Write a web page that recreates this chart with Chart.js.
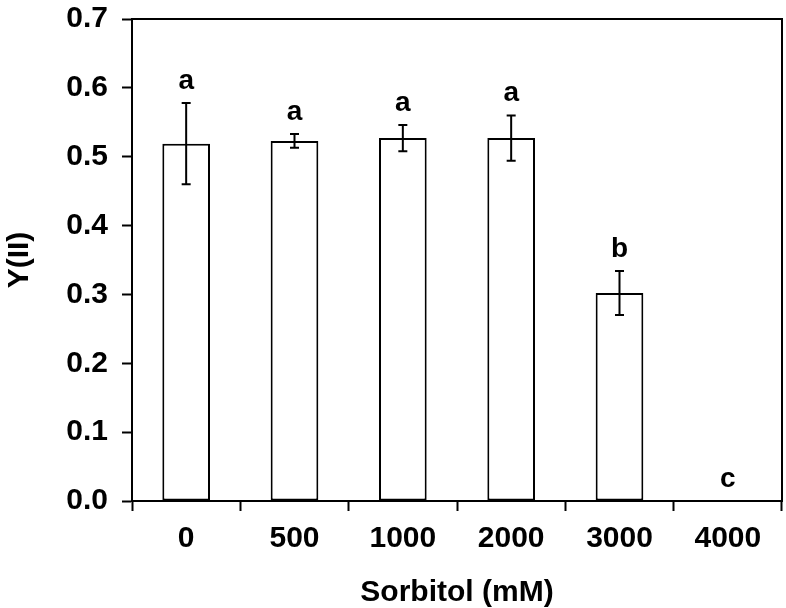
<!DOCTYPE html>
<html>
<head>
<meta charset="utf-8">
<script src="https://cdn.jsdelivr.net/npm/chart.js@4"></script>
<style>
  html, body { margin: 0; padding: 0; background: #fff; }
  #wrap { width: 786px; height: 608px; }
</style>
</head>
<body>
<div id="wrap"><canvas id="yieldChart"></canvas></div>
<script>
const concentrations = ['0', '500', '1000', '2000', '3000', '4000'];
const yieldMeans = [0.519, 0.523, 0.527, 0.527, 0.302, 0];
const yieldErrors = [0.059, 0.010, 0.019, 0.033, 0.032, 0];
const groupLetters = ['a', 'a', 'a', 'a', 'b', 'c'];

const FONT = '"Liberation Sans", Arial, Helvetica, sans-serif';

// error bars, significance letters and the top/right frame
const extrasPlugin = {
  id: 'extras',
  afterDatasetsDraw(chart) {
    const ctx = chart.ctx;
    const x = chart.scales.x;
    const y = chart.scales.y;
    const area = chart.chartArea;
    ctx.save();
    ctx.strokeStyle = '#000';
    ctx.lineWidth = 2;
    yieldMeans.forEach((v, i) => {
      const cx = x.getPixelForValue(i);
      const err = yieldErrors[i];
      if (err > 0) {
        const top = y.getPixelForValue(v + err);
        const bot = y.getPixelForValue(v - err);
        ctx.beginPath();
        ctx.moveTo(cx, top);
        ctx.lineTo(cx, bot);
        ctx.moveTo(cx - 4.5, top);
        ctx.lineTo(cx + 4.5, top);
        ctx.moveTo(cx - 4.5, bot);
        ctx.lineTo(cx + 4.5, bot);
        ctx.stroke();
      }
      ctx.fillStyle = '#000';
      ctx.font = 'bold 28px ' + FONT;
      ctx.textAlign = 'center';
      ctx.textBaseline = 'alphabetic';
      ctx.fillText(groupLetters[i], cx, y.getPixelForValue(v + err) - 14);
    });
    ctx.beginPath();
    ctx.moveTo(area.left, area.top);
    ctx.lineTo(area.right, area.top);
    ctx.lineTo(area.right, area.bottom);
    ctx.stroke();
    ctx.restore();
  },
};

const chartEl = document.getElementById('yieldChart').getContext('2d');
const yieldChart = new Chart(chartEl, {
  type: 'bar',
  data: {
    labels: concentrations,
    datasets: [
      {
        label: 'Y(II)',
        data: yieldMeans,
        backgroundColor: '#fff',
        borderColor: '#000',
        borderWidth: 2,
        borderSkipped: false,
        categoryPercentage: 1,
        barPercentage: 0.44,
      },
    ],
  },
  options: {
    responsive: true,
    maintainAspectRatio: false,
    animation: false,
    layout: { padding: { top: 19, right: 4, left: 0, bottom: 0 } },
    plugins: {
      legend: { display: false },
      tooltip: { enabled: false },
    },
    scales: {
      x: {
        offset: true,
        grid: {
          offset: true,
          drawOnChartArea: false,
          tickLength: 10,
          tickWidth: 2,
          tickColor: '#000',
        },
        border: { color: '#000', width: 2 },
        ticks: {
          color: '#000',
          padding: 10,
          font: { family: FONT, size: 30, weight: 'bold' },
        },
        title: {
          display: true,
          text: 'Sorbitol (mM)',
          color: '#000',
          padding: { top: 8, bottom: -3 },
          font: { family: FONT, size: 30, weight: 'bold' },
        },
        afterFit(scale) {
          scale.height = 107;
          scale.paddingLeft = 0;
          scale.paddingRight = 0;
        },
      },
      y: {
        min: 0,
        max: 0.7,
        grid: {
          drawOnChartArea: false,
          tickLength: 10,
          tickWidth: 2,
          tickColor: '#000',
        },
        border: { color: '#000', width: 2 },
        ticks: {
          stepSize: 0.1,
          color: '#000',
          padding: 14,
          font: { family: FONT, size: 30, weight: 'bold' },
          callback: value => value.toFixed(1),
        },
        title: {
          display: true,
          text: 'Y(II)',
          color: '#000',
          padding: { top: 2, bottom: 0 },
          font: { family: FONT, size: 30, weight: 'bold' },
        },
        afterFit(scale) {
          scale.width = 132;
          scale.paddingTop = 0;
          scale.paddingBottom = 0;
        },
      },
    },
  },
  plugins: [extrasPlugin],
});
</script>
</body>
</html>
